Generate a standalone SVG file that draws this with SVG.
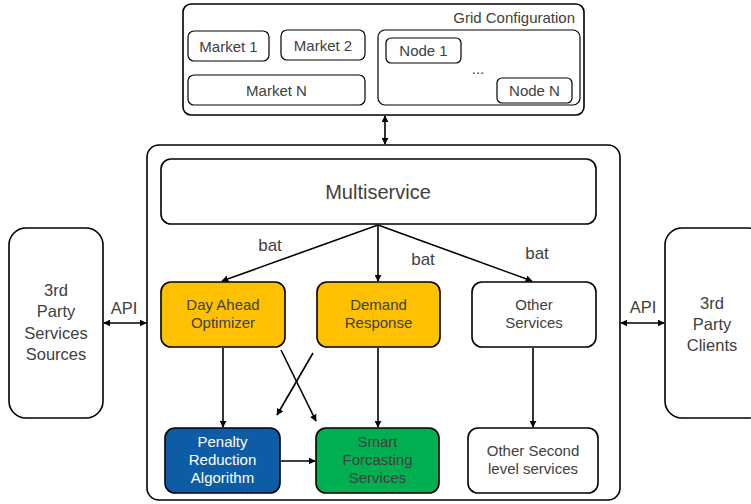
<svg xmlns="http://www.w3.org/2000/svg" width="751" height="504" viewBox="0 0 751 504">
  <style>
    text { font-family: "Liberation Sans", Arial, sans-serif; fill: #404040; text-anchor: middle; }
    .box { fill: #ffffff; stroke: #000000; stroke-width: 1.6; }
    .sub { fill: #ffffff; stroke: #000000; stroke-width: 1.2; }
    .yellow { fill: #FFC000; stroke: #000000; stroke-width: 1.6; }
    .blue { fill: #0F5CA6; stroke: #000000; stroke-width: 1.6; }
    .green { fill: #00B050; stroke: #000000; stroke-width: 1.6; }
    .link { stroke: #000000; stroke-width: 1.6; fill: none; }
    .light { fill: #ffffff; }
    .s15 { font-size: 15px; }
    .s16 { font-size: 16.5px; }
    .s17 { font-size: 17px; }
    .s20 { font-size: 20px; }
  </style>
  <defs>
    <marker id="arrow" viewBox="0 0 10 10" refX="9" refY="5" markerWidth="7" markerHeight="7" markerUnits="userSpaceOnUse" orient="auto-start-reverse">
      <path d="M0,0 L10,5 L0,10 z" fill="#000000"/>
    </marker>
  </defs>

  <!-- Grid configuration -->
  <g id="grid-config">
    <rect class="box" x="183" y="4" width="401" height="111" rx="8"/>
    <text class="s15" x="575" y="23" style="text-anchor:end">Grid Configuration</text>
  </g>
  <g id="market-1">
    <rect class="sub" x="188" y="31" width="81" height="30" rx="6"/>
    <text class="s15" x="228.5" y="52">Market 1</text>
  </g>
  <g id="market-2">
    <rect class="sub" x="281" y="30" width="84" height="30" rx="6"/>
    <text class="s15" x="323" y="51">Market 2</text>
  </g>
  <g id="market-n">
    <rect class="sub" x="188" y="75" width="177" height="30" rx="6"/>
    <text class="s15" x="276.5" y="96">Market N</text>
  </g>
  <g id="nodes">
    <rect class="sub" x="378" y="30" width="202" height="75" rx="7"/>
    <text class="s15" x="478" y="74">...</text>
  </g>
  <g id="node-1">
    <rect class="sub" x="386" y="38" width="75" height="25" rx="5"/>
    <text class="s15" x="423.5" y="56">Node 1</text>
  </g>
  <g id="node-n">
    <rect class="sub" x="497" y="78" width="75" height="25" rx="5"/>
    <text class="s15" x="534.5" y="96">Node N</text>
  </g>

  <!-- Platform container -->
  <g id="platform">
    <rect class="box" x="147" y="145" width="473" height="355" rx="12"/>
  </g>
  <g id="multiservice">
    <rect class="box" x="161" y="159" width="435" height="65" rx="10"/>
    <text class="s20" x="378" y="199">Multiservice</text>
  </g>

  <!-- First level services -->
  <g id="day-ahead">
    <rect class="yellow" x="161" y="282" width="124" height="65" rx="10"/>
    <text class="s15" x="223" y="310">Day Ahead</text>
    <text class="s15" x="223" y="328">Optimizer</text>
  </g>
  <g id="demand-response">
    <rect class="yellow" x="317" y="282" width="123" height="65" rx="10"/>
    <text class="s15" x="378.5" y="310">Demand</text>
    <text class="s15" x="378.5" y="328">Response</text>
  </g>
  <g id="other-services">
    <rect class="box" x="472" y="282" width="124" height="65" rx="10"/>
    <text class="s15" x="534" y="310">Other</text>
    <text class="s15" x="534" y="328">Services</text>
  </g>

  <!-- Second level services -->
  <g id="penalty-reduction">
    <rect class="blue" x="165" y="428" width="115" height="65" rx="10"/>
    <text class="s15 light" x="222.5" y="447">Penalty</text>
    <text class="s15 light" x="222.5" y="465">Reduction</text>
    <text class="s15 light" x="222.5" y="483">Algorithm</text>
  </g>
  <g id="smart-forecasting">
    <rect class="green" x="316" y="428" width="123" height="65" rx="10"/>
    <text class="s15" x="377.5" y="447">Smart</text>
    <text class="s15" x="377.5" y="465">Forcasting</text>
    <text class="s15" x="377.5" y="483">Services</text>
  </g>
  <g id="other-second-level">
    <rect class="box" x="468" y="428" width="130" height="65" rx="10"/>
    <text class="s15" x="533" y="456">Other Second</text>
    <text class="s15" x="533" y="474">level services</text>
  </g>

  <!-- External parties -->
  <g id="third-party-sources">
    <rect class="box" x="9" y="228" width="94" height="190" rx="17"/>
    <text class="s16" x="56" y="296">3rd</text>
    <text class="s16" x="56" y="317">Party</text>
    <text class="s16" x="56" y="339">Services</text>
    <text class="s16" x="56" y="360">Sources</text>
  </g>
  <g id="third-party-clients">
    <rect class="box" x="665" y="228" width="100" height="190" rx="17"/>
    <text class="s16" x="712" y="309">3rd</text>
    <text class="s16" x="712" y="330">Party</text>
    <text class="s16" x="712" y="351">Clients</text>
  </g>

  <!-- Connectors -->
  <g id="connectors">
    <line class="link" x1="385" y1="116" x2="385" y2="144" marker-start="url(#arrow)" marker-end="url(#arrow)"/>
    <line class="link" x1="104" y1="323" x2="146" y2="323" marker-start="url(#arrow)" marker-end="url(#arrow)"/>
    <line class="link" x1="621" y1="323" x2="664" y2="323" marker-start="url(#arrow)" marker-end="url(#arrow)"/>
    <line class="link" x1="378" y1="225" x2="222" y2="281" marker-end="url(#arrow)"/>
    <line class="link" x1="378" y1="225" x2="378" y2="281" marker-end="url(#arrow)"/>
    <line class="link" x1="378" y1="225" x2="532" y2="281" marker-end="url(#arrow)"/>
    <line class="link" x1="223" y1="348" x2="223" y2="427" marker-end="url(#arrow)"/>
    <line class="link" x1="378" y1="348" x2="378" y2="427" marker-end="url(#arrow)"/>
    <line class="link" x1="533" y1="348" x2="533" y2="427" marker-end="url(#arrow)"/>
    <line class="link" x1="281" y1="350" x2="316" y2="421" marker-end="url(#arrow)"/>
    <line class="link" x1="313" y1="353" x2="277" y2="415" marker-end="url(#arrow)"/>
    <line class="link" x1="281" y1="461" x2="315" y2="461" marker-end="url(#arrow)"/>
    <text class="s17" x="270" y="251">bat</text>
    <text class="s17" x="423" y="265">bat</text>
    <text class="s17" x="537" y="259">bat</text>
    <text class="s16" x="124" y="314">API</text>
    <text class="s16" x="643" y="313">API</text>
  </g>
</svg>
